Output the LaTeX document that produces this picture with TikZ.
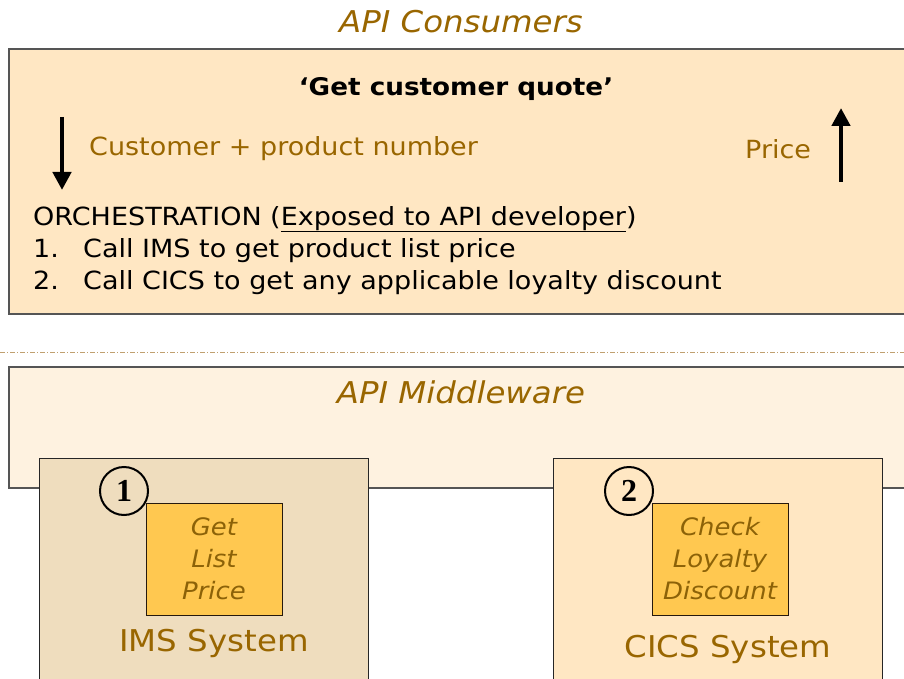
\documentclass[tikz,border=0pt]{standalone}
\usepackage{fontspec}
\setmainfont{DejaVu Sans}[FakeStretch=1.08]
\newfontfamily\numfont{Liberation Serif}
\usetikzlibrary{arrows.meta}
\definecolor{goldtext}{RGB}{153,102,0}
\definecolor{innertext}{RGB}{140,98,8}
\definecolor{consfill}{RGB}{255,231,195}
\definecolor{midfill}{RGB}{254,242,224}
\definecolor{imsfill}{RGB}{239,221,190}
\definecolor{innerfill}{RGB}{255,200,80}
\definecolor{edgegray}{RGB}{85,85,85}
\definecolor{dotline}{RGB}{192,160,112}
\tikzset{
  panel/.style={draw=edgegray, line width=1.3pt},
  innerbox/.style={draw=black!80!brown, line width=1pt, fill=innerfill, minimum width=136pt, minimum height=112pt, inner sep=0pt, font=\fontsize{24}{32}\selectfont\itshape, text=innertext, align=center},
  numcircle/.style={circle, draw=black, line width=2pt, minimum size=48pt, inner sep=0pt, font=\numfont\bfseries\fontsize{32}{32}\selectfont},
  goldlabel/.style={text=goldtext, inner sep=0pt, font=\fontsize{25}{30}\selectfont},
  bigarrow/.style={line width=4.5pt, -{Triangle[length=18pt,width=18pt]}},
  blacktext/.style={text=black, inner sep=0pt, anchor=base west, font=\fontsize{25}{30}\selectfont},
}
\begin{document}
\begin{tikzpicture}[x=1pt,y=-1pt]
\useasboundingbox (0,0) rectangle (904,679);
\clip (0,0) rectangle (904,679);
% title
\node[goldlabel, font=\fontsize{30}{32}\selectfont\itshape] (cons) at (461,22) {API Consumers};
% consumers box
\draw[panel, fill=consfill] (9,49) rectangle (920,314);
\node[inner sep=0pt, font=\fontsize{24.3}{28}\selectfont\bfseries] (quote) at (456,89) {‘Get customer quote’};
\coordinate (dtop) at (62,117);
\coordinate (dbot) at (62,190);
\draw[bigarrow] (dtop) -- (dbot);
\coordinate (utop) at (841,108);
\coordinate (ubot) at (841,182);
\draw[bigarrow] (ubot) -- (utop);
\node[goldlabel, anchor=west] (cust) at (89,149) {Customer + product number};
\node[goldlabel, anchor=west] (price) at (745,149) {Price};
\node[blacktext] (orch) at (33,225) {ORCHESTRATION (\underline{Exposed to API developer})};
\node[blacktext] (step1) at (33,257) {\makebox[50pt][l]{1.}Call IMS to get product list price};
\node[blacktext] (step2) at (33,289) {\makebox[50pt][l]{2.}Call CICS to get any applicable loyalty discount};
% separator
\coordinate (sepl) at (0,352);
\coordinate (sepr) at (904,352);
\draw[dotline, line width=1pt, dash pattern=on 5pt off 2pt on 1pt off 2pt] (sepl) -- (sepr);
% middleware
\draw[panel, fill=midfill] (9,367) rectangle (920,488);
\node[goldlabel, font=\fontsize{30}{32}\selectfont\itshape] (mid) at (461,392) {API Middleware};
% IMS
\draw[panel, draw=black!85, line width=1pt, fill=imsfill] (39,458) rectangle (368,700);
\node[innerbox] (getprice) at (214,559) {Get\\List\\Price};
\node[numcircle] (n1) at (124,491) {1};
\node[goldlabel, font=\fontsize{30}{32}\selectfont] (ims) at (214,643) {IMS System};
% CICS
\draw[panel, draw=black!85, line width=1pt, fill=consfill] (553,458) rectangle (882,700);
\node[innerbox] (loyal) at (720,559) {Check\\Loyalty\\Discount};
\node[numcircle] (n2) at (629,491) {2};
\node[goldlabel, font=\fontsize{30}{32}\selectfont] (cics) at (728,649) {CICS System};
\end{tikzpicture}
\end{document}
